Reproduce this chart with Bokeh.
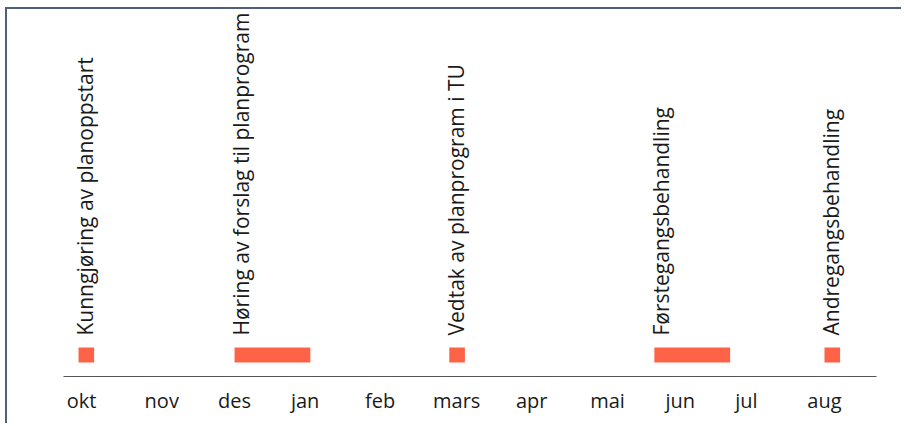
import math
from bokeh.plotting import figure
from bokeh.models import ColumnDataSource, Range1d, FixedTicker
from bokeh.core.properties import value
from bokeh.embed import file_html
from bokeh.resources import INLINE

# ---- data ----
months = ["okt", "nov", "des", "jan", "feb", "mars", "apr", "mai", "jun", "jul", "aug"]
month_pos = [0.0, 1.08, 2.06, 3.01, 4.02, 5.05, 6.06, 7.08, 8.06, 8.95, 10.0]
tasks = [
    "Kunngjøring av planoppstart",
    "Høring av forslag til planprogram",
    "Vedtak av planprogram i TU",
    "Førstegangsbehandling",
    "Andregangsbehandling",
]
starts = [-0.04, 2.06, 4.95, 7.71, 10.0]
ends = [0.17, 3.08, 5.16, 8.73, 10.21]

BAR = "#ff6347"
TEXT = "#1a1a1a"
FONT = "Open Sans"

src = ColumnDataSource(dict(
    task=tasks, start=starts, end=ends, lane=[0] * len(tasks)
))

p = figure(
    width=896, height=416, output_backend="svg", toolbar_location=None,
    title=None, x_range=Range1d(-0.2423, 10.70), y_range=Range1d(-21.5, 345.5),
    y_axis_location=None, min_border_left=56, min_border_right=27,
    min_border_top=0, min_border_bottom=49,
)
p.styles = {
    "border-top": "2px solid #4f5f7c",
    "border-left": "2px solid #4f5f7c",
    "margin-left": "5px",
    "margin-top": "7px",
}
p.outline_line_color = None
p.xgrid.visible = False
p.ygrid.visible = False
p.background_fill_color = "white"
p.border_fill_color = "white"

p.hbar(y="lane", left="start", right="end", height=15, source=src,
       fill_color=BAR, line_color=None)

p.text(x="start", y="lane", text="task", source=src, angle=math.pi / 2,
       text_align="left", text_baseline="alphabetic", x_offset=6.5, y_offset=-19.5,
       text_font=value(FONT), text_font_size="21px", text_color=TEXT)

ax = p.xaxis[0]
ax.ticker = FixedTicker(ticks=month_pos)
ax.major_label_overrides = {pos: m for pos, m in zip(month_pos, months)}
ax.axis_line_color = "#555555"
ax.axis_line_width = 1
ax.major_tick_line_color = None
ax.minor_tick_line_color = None
ax.major_label_standoff = 4
ax.major_label_text_font = FONT
ax.major_label_text_font_size = "20px"
ax.major_label_text_color = TEXT

open("out.html", "w").write(file_html(p, INLINE))
